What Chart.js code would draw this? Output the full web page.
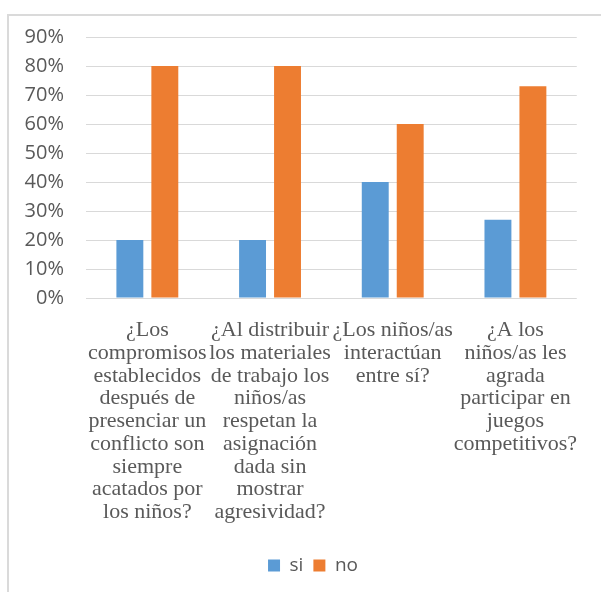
<!DOCTYPE html>
<html>
<head>
<meta charset="utf-8">
<script src="https://cdn.jsdelivr.net/npm/chart.js@4/dist/chart.umd.min.js"></script>
<style>
  html, body { margin: 0; padding: 0; background: #ffffff; }
  #wrap { position: relative; width: 601px; height: 592px; overflow: hidden; background: #ffffff; }
  #frame { position: absolute; left: 7px; top: 14px; width: 700px; height: 700px; border-left: 2px solid #dadada; border-top: 2px solid #dadada; box-sizing: border-box; }
  canvas { position: absolute; left: 0; top: 0; }
</style>
</head>
<body>
<div id="wrap">
  <div id="frame"></div>
  <canvas id="c" width="601" height="592"></canvas>
</div>
<script>
const categories = [
  ["¿Los", "compromisos", "establecidos", "después de", "presenciar un", "conflicto son", "siempre", "acatados por", "los niños?"],
  ["¿Al distribuir", "los materiales", "de trabajo los", "niños/as", "respetan la", "asignación", "dada sin", "mostrar", "agresividad?"],
  ["¿Los niños/as", "interactúan", "entre sí?"],
  ["¿A los", "niños/as les", "agrada", "participar en", "juegos", "competitivos?"]
];
const siValues = [20, 20, 40, 27];
const noValues = [80, 80, 60, 73];
const yTicks = [0, 10, 20, 30, 40, 50, 60, 70, 80, 90];

const shiftLegend = {
  id: 'shiftLegend',
  afterLayout(chart) {
    const lg = chart.legend;
    if (lg) { lg.left += 24; lg.right += 24; }
  }
};

new Chart(document.getElementById('c'), {
  type: 'bar',
  data: {
    labels: categories,
    datasets: [
      { label: 'si', data: siValues, backgroundColor: '#5B9BD5', categoryPercentage: 0.57, barPercentage: 0.77 },
      { label: 'no', data: noValues, backgroundColor: '#ED7D31', categoryPercentage: 0.57, barPercentage: 0.77 }
    ]
  },
  plugins: [shiftLegend],
  options: {
    responsive: false,
    animation: false,
    layout: { padding: { top: 37, right: 23, bottom: 7, left: 0 } },
    plugins: {
      tooltip: { enabled: false },
      legend: {
        position: 'bottom',
        labels: {
          boxWidth: 12, boxHeight: 12, padding: 10,
          color: '#595959',
          font: { family: "'Open Sans', 'Liberation Sans', sans-serif", size: 19 }
        }
      }
    },
    scales: {
      x: {
        grid: { display: false, drawTicks: false },
        border: { display: false },
        ticks: {
          maxRotation: 0, minRotation: 0, autoSkip: false, padding: 21,
          color: '#595959',
          font: { family: "'Liberation Serif', 'Times New Roman', serif", size: 22, lineHeight: 1.034 }
        },
        afterFit: (s) => { s.height = 248; }
      },
      y: {
        min: 0, max: 90,
        afterBuildTicks: (s) => { s.ticks = yTicks.map(v => ({ value: v })); },
        grid: { color: '#d9d9d9', lineWidth: 1, drawTicks: false },
        border: { display: false },
        ticks: {
          padding: 22,
          color: '#595959',
          font: { family: "'Open Sans', 'Liberation Sans', sans-serif", size: 20 },
          callback: (v) => v + '%'
        },
        afterFit: (s) => { s.width = 86; }
      }
    }
  }
});
</script>
</body>
</html>
